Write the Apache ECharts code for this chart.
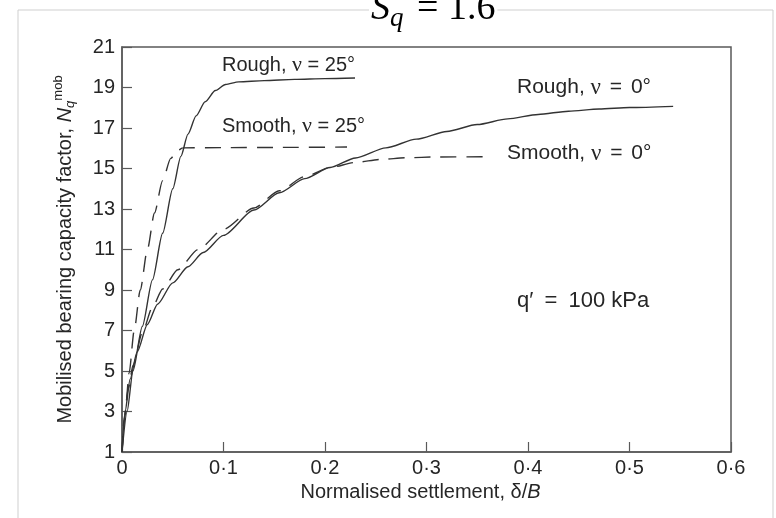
<!DOCTYPE html>
<html><head><meta charset="utf-8">
<script src="https://cdn.jsdelivr.net/npm/echarts@6/dist/echarts.min.js"></script>
<style>html,body{margin:0;padding:0;background:#fff}#c{width:776px;height:518px}</style>
</head><body><div id="c"></div>
<script>
// ---- data ----
const xTickValues = [0, 0.1, 0.2, 0.3, 0.4, 0.5, 0.6];
const yTickValues = [1, 3, 5, 7, 9, 11, 13, 15, 17, 19, 21];

const roughNu25 = [
  [0, 1], [0.005, 3.0], [0.0108, 5.0], [0.02, 7.2], [0.03, 9.5], [0.04, 11.8],
  [0.05, 14.0], [0.058, 15.6], [0.065, 16.7], [0.073, 17.6], [0.082, 18.3],
  [0.092, 18.85], [0.102, 19.15], [0.115, 19.28], [0.14, 19.34], [0.17, 19.4],
  [0.2, 19.44], [0.2296, 19.47]
];
const smoothNu25 = [
  [0, 1], [0.003, 2.8], [0.007, 4.9], [0.012, 7.0], [0.018, 9.0], [0.025, 11.0],
  [0.032, 12.8], [0.04, 14.4], [0.048, 15.5], [0.055, 15.9], [0.060, 16.02],
  [0.1, 16.03], [0.15, 16.04], [0.2217, 16.06]
];
const roughNu0 = [
  [0, 1], [0.003, 3.0], [0.008, 4.6], [0.015, 5.95], [0.025, 7.3], [0.035, 8.3],
  [0.05, 9.35], [0.065, 10.15], [0.08, 10.85], [0.1, 11.7], [0.13, 12.95],
  [0.155, 13.8], [0.18, 14.5], [0.205, 15.05], [0.23, 15.52], [0.26, 16.02],
  [0.29, 16.45], [0.32, 16.83], [0.35, 17.17], [0.38, 17.45], [0.41, 17.67],
  [0.44, 17.83], [0.47, 17.94], [0.5, 18.01], [0.543, 18.07]
];
const smoothNu0 = [
  [0, 1], [0.002, 2.6], [0.006, 4.1], [0.011, 5.3], [0.02, 6.9], [0.03, 8.15],
  [0.04, 9.05], [0.055, 10.0], [0.075, 11.0], [0.1, 12.0], [0.13, 13.05],
  [0.155, 13.9], [0.18, 14.6], [0.205, 15.05], [0.23, 15.3], [0.255, 15.45],
  [0.28, 15.53], [0.31, 15.57], [0.3576, 15.58]
];

const curveLabels = ['Rough, {n|ν} = 25°', 'Smooth, {n|ν} = 25°', 'Rough, {n|ν} {e|=} 0°', 'Smooth, {n|ν} {e|=} 0°', 'q′ {e|=} 100 kPa'];

// ---- chart ----
const chart = echarts.init(document.getElementById('c'), null, {renderer: 'canvas'});
const FONT = 'Liberation Sans, Arial, sans-serif';
const ink = '#262626';
const axisCol = '#5a5a5a';
const fs = 20;

function line(name, data, dashed) {
  return {
    name, type: 'line', data, showSymbol: false, smooth: 0.25, smoothMonotone: 'x',
    lineStyle: { color: '#333', width: 1.4, type: dashed ? [16, 10] : 'solid' },
    z: 3, silent: true
  };
}

function txt(text, left, top, size, eqPad) {
  return {
    type: 'text', left, top, z: 10,
    style: {
      text, font: size + 'px ' + FONT, fill: ink,
      rich: {
        n: { fontFamily: 'Liberation Serif, serif', fontSize: size + 2, color: ink },
        e: { fontFamily: FONT, fontSize: size, color: ink, padding: [0, eqPad, 0, eqPad] }
      }
    }
  };
}

const option = {
  backgroundColor: '#fff',
  animation: false,
  grid: { left: 122, top: 47, width: 609, height: 405, show: true, borderColor: axisCol, borderWidth: 1.5 },
  xAxis: {
    type: 'value', min: xTickValues[0], max: xTickValues[xTickValues.length - 1], interval: 0.1,
    name: 'Normalised settlement, δ/{i|B}', nameLocation: 'middle', nameGap: 28,
    nameTextStyle: { fontSize: fs, color: ink, fontFamily: FONT, padding: [0, 12, 0, 0],
      rich: { i: { fontStyle: 'italic', fontSize: fs, color: ink, fontFamily: FONT } } },
    axisLine: { lineStyle: { color: axisCol, width: 1.5 } },
    axisTick: { inside: true, length: 10, lineStyle: { color: axisCol, width: 1.2 } },
    axisLabel: { fontSize: fs, color: ink, fontFamily: FONT, margin: 6,
      formatter: v => (v === 0 ? '0' : (+v.toFixed(1)).toString().replace('.', '·')) },
    splitLine: { show: false }
  },
  yAxis: {
    type: 'value', min: yTickValues[0], max: yTickValues[yTickValues.length - 1], interval: 2,
    name: 'Mobilised bearing capacity factor, {i|N}{sub|q}{sup|mob}', nameLocation: 'middle', nameGap: 44,
    nameTextStyle: { fontSize: fs, color: ink, fontFamily: FONT,
      rich: {
        i: { fontStyle: 'italic', fontSize: fs, color: ink, fontFamily: FONT },
        sub: { fontStyle: 'italic', fontSize: 13, color: ink, fontFamily: FONT, padding: [11, 0, 0, 0] },
        sup: { fontSize: 13, color: ink, fontFamily: FONT, padding: [0, 0, 13, 0] }
      } },
    axisLine: { lineStyle: { color: axisCol, width: 1.5 } },
    axisTick: { inside: true, length: 10, lineStyle: { color: axisCol, width: 1.2 } },
    axisLabel: { fontSize: fs, color: ink, fontFamily: FONT, margin: 7 },
    splitLine: { show: false }
  },
  series: [
    line('Rough, ν = 25°', roughNu25, false),
    line('Smooth, ν = 25°', smoothNu25, true),
    line('Rough, ν = 0°', roughNu0, false),
    line('Smooth, ν = 0°', smoothNu0, true)
  ],
  graphic: [
    { type: 'polyline', z: 0, shape: { points: [[18, 520], [18, 10], [773, 10], [773, 520]] },
      style: { stroke: '#cfcfcf', lineWidth: 1, fill: null } },
    { type: 'text', left: 369, top: -13, z: 20,
      style: {
        text: '{i|S}{s|q}{n| = 1.6}', backgroundColor: '#fff', padding: [0, 2, 0, 2],
        rich: {
          i: { fontFamily: 'Liberation Serif, serif', fontStyle: 'italic', fontSize: 38, color: '#111' },
          s: { fontFamily: 'Liberation Serif, serif', fontStyle: 'italic', fontSize: 27, color: '#111', padding: [18, 4, 0, 0] },
          n: { fontFamily: 'Liberation Serif, serif', fontSize: 38, color: '#111' }
        }
      } },
    txt(curveLabels[0], 222, 54, 20, 0),
    txt(curveLabels[1], 222, 115, 20, 0),
    txt(curveLabels[2], 517, 76, 21, 3),
    txt(curveLabels[3], 507, 142, 21, 3),
    txt(curveLabels[4], 517, 290, 22, 5)
  ]
};
chart.setOption(option);
</script></body></html>
